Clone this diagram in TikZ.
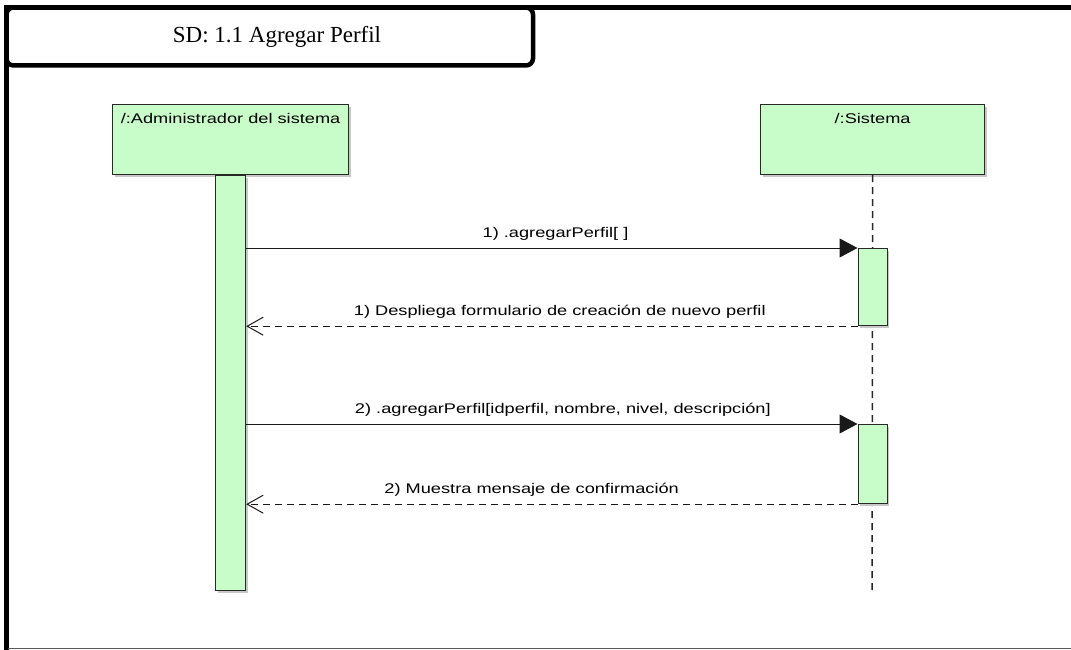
\documentclass[tikz,border=0pt]{standalone}
\usepackage{fontspec}
\setmainfont{Liberation Serif}
\newfontfamily\umlsans{Liberation Sans}
\usetikzlibrary{arrows.meta}
\definecolor{lifefill}{RGB}{200,252,200}
\definecolor{edgecol}{RGB}{40,40,40}
\definecolor{shadecol}{RGB}{200,200,200}
% UML tool text is rendered slightly stretched horizontally
\newcommand\widetext[1]{\scalebox{1.3}[1]{#1}}

\begin{document}
\begin{tikzpicture}[x=1pt,y=-1pt,
  umltext/.style={font=\umlsans\fontsize{14}{16}\selectfont, text=black},
  boxshade/.style={preaction={fill=shadecol, transform canvas={xshift=2pt,yshift=-2pt}}},
  headbox/.style={draw=edgecol, line width=1.2pt, fill=lifefill, boxshade, umltext,
    inner sep=0pt, text height=19pt, text depth=51pt, minimum height=70pt, anchor=north west},
  actbox/.style={draw=edgecol, line width=1.2pt, fill=lifefill, boxshade,
    inner sep=0pt, anchor=north},
  lifeline/.style={draw=edgecol, line width=1.5pt, dash pattern=on 7pt off 5pt},
  callmsg/.style={draw=black!90, line width=1pt, -{Triangle[length=18pt,width=19pt]}},
  replymsg/.style={draw=black!90, line width=1pt, dash pattern=on 7pt off 5pt,
    -{Straight Barb[length=16pt,width=18pt,line width=1pt]}},
  msglabel/.style={umltext, yshift=14pt, inner sep=0pt},
  frameline/.style={line width=4.5pt, draw=black}]

\useasboundingbox (0,0) rectangle (1071,650);

% diagram frame and its title tab
\draw[frameline, rounded corners=7pt] (6.5,7.5) rectangle (533,65.5);
\draw[frameline] (4,7.5) -- (1071,7.5);
\draw[frameline] (6.5,5) -- (6.5,650);
\draw[line width=1.5pt, draw=black!65] (8,648.7) -- (1071,648.7);
\node[font=\fontsize{23}{26}\selectfont] (title) at (277,37) {SD: 1.1 Agregar Perfil};

% lifeline heads
\node[headbox, minimum width=236pt] (admin) at (112,104) {\widetext{/:Administrador del sistema}};
\node[headbox, minimum width=224pt] (sys) at (760,104) {\widetext{/:Sistema}};

% lifeline of the system
\coordinate (sysend) at (872,590);
\draw[lifeline] (sys.south) -- (sysend);

% activation bars
\node[actbox, minimum width=30pt, minimum height=415pt] (adminact) at (admin.south) {};
\node[actbox, minimum width=29pt, minimum height=77pt] (sysact1) at (sys.south |- 0,248) {};
\node[actbox, minimum width=29pt, minimum height=79pt] (sysact2) at (sys.south |- 0,424) {};

% messages
\draw[callmsg] (adminact.east |- sysact1.north west) -- (sysact1.north west)
  node[msglabel, pos=0.506] (m1) {\widetext{1) .agregarPerfil[ ]}};
\draw[replymsg] (sysact1.south west) -- (adminact.east |- sysact1.south west)
  node[msglabel, pos=0.487] (r1) {\widetext{1) Despliega formulario de creación de nuevo perfil}};
\draw[callmsg] (adminact.east |- sysact2.north west) -- (sysact2.north west)
  node[msglabel, pos=0.518] (m2) {\widetext{2) .agregarPerfil[idperfil, nombre, nivel, descripción]}};
\draw[replymsg] (sysact2.south west) -- (adminact.east |- sysact2.south west)
  node[msglabel, pos=0.533] (r2) {\widetext{2) Muestra mensaje de confirmación}};
\end{tikzpicture}
\end{document}
